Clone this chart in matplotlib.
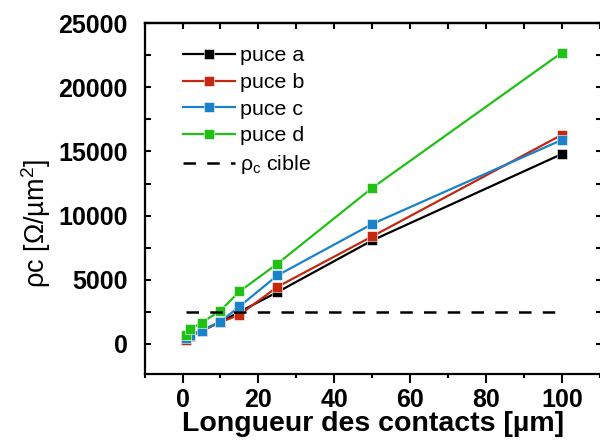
import matplotlib
matplotlib.use('Agg')
import matplotlib.pyplot as plt
from matplotlib.ticker import MultipleLocator

plt.rcParams['font.family'] = ['Liberation Sans', 'DejaVu Sans']
plt.rcParams['mathtext.fontset'] = 'custom'
plt.rcParams['mathtext.rm'] = 'Liberation Sans'
plt.rcParams['mathtext.it'] = 'Liberation Sans'

# contact lengths [um]
longueur = [1, 2, 5, 10, 15, 25, 50, 100]

# rho_c values [Ohm/um^2]
puce_a = [400, 600, 1050, 1700, 2500, 4040, 8070, 14800]
puce_b = [300, 600, 1000, 1700, 2270, 4450, 8380, 16300]
puce_c = [500, 700, 1050, 1740, 2920, 5340, 9350, 15900]
puce_d = [700, 1150, 1650, 2600, 4090, 6250, 12160, 22700]
rho_cible = 2500

names = ['puce a', 'puce b', 'puce c', 'puce d']
colors = ['#000000', '#C4280F', '#1A82C8', '#21C016']

fig = plt.figure(figsize=(6, 4.43), dpi=100)
ax = fig.add_axes([0.241, 0.156, 0.762, 0.792])

for vals, name, c in zip([puce_a, puce_b, puce_c, puce_d], names, colors):
    ax.plot(longueur, vals, '-s', color=c, lw=1.6, ms=6.5, mec='white', mew=0.4, label=name)

ax.plot([longueur[0], longueur[-1]], [rho_cible, rho_cible], '--', color='black',
        lw=1.8, dashes=(5, 4.5), label=r'$\rho_c$ cible')

ax.set_xlim(-10, 110.5)
ax.set_ylim(-2330, 25000)
ax.xaxis.set_major_locator(MultipleLocator(20))
ax.xaxis.set_minor_locator(MultipleLocator(10))
ax.yaxis.set_major_locator(MultipleLocator(5000))
ax.yaxis.set_minor_locator(MultipleLocator(2500))

for s in ax.spines.values():
    s.set_linewidth(1.6)

ax.tick_params(axis='x', which='both', direction='out', top=False, width=1.5, pad=4)
ax.tick_params(axis='x', which='major', length=6.5)
ax.tick_params(axis='x', which='minor', length=3)
ax.tick_params(axis='y', which='both', direction='in', right=True, width=1.5, length=4, pad=12)
ax.tick_params(labelsize=18)
for lab in ax.get_xticklabels() + ax.get_yticklabels():
    lab.set_fontweight('bold')

# top axis ticks pointing inward
ax_top = ax.secondary_xaxis('top')
ax_top.xaxis.set_major_locator(MultipleLocator(20))
ax_top.xaxis.set_minor_locator(MultipleLocator(10))
ax_top.tick_params(which='both', direction='in', width=1.5, length=4, labeltop=False)
ax_top.spines['top'].set_linewidth(1.6)

ax.set_xlabel('Longueur des contacts [µm]', fontsize=20.5, fontweight='bold', labelpad=-1)
ax.set_ylabel(r'$\rho$c [Ω/µm$^2$]', fontsize=19.5)
ax.yaxis.set_label_coords(-0.2, 0.43)

leg = ax.legend(loc='upper left', frameon=False, fontsize=15.4, handlelength=2.4,
                handletextpad=0.25, labelspacing=0.36, borderaxespad=0,
                bbox_to_anchor=(0.066, 0.958))

fig.savefig('out.png', dpi=100)
